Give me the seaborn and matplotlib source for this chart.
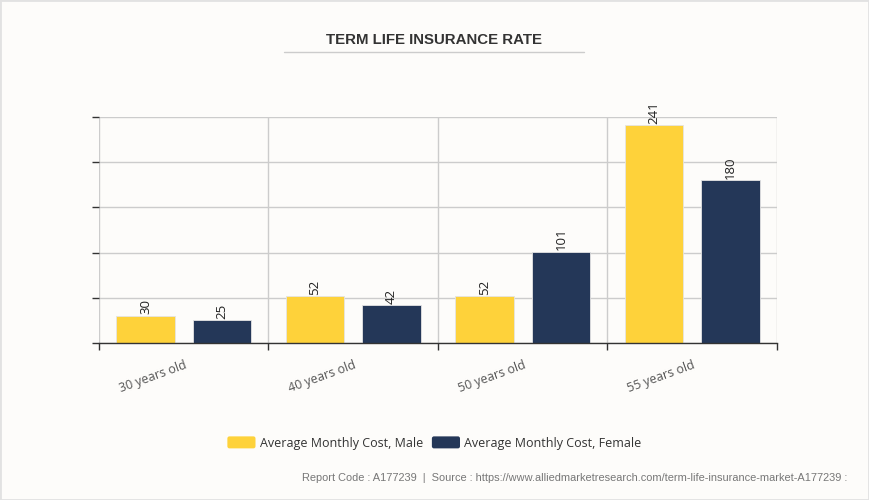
import matplotlib
matplotlib.use("Agg")
import matplotlib.pyplot as plt
from matplotlib.patches import FancyBboxPatch, Rectangle
from matplotlib.lines import Line2D
from matplotlib.legend_handler import HandlerPatch
import seaborn as sns
import pandas as pd

# data
ages = ["30 years old", "40 years old", "50 years old", "55 years old"]
male_cost = [30, 52, 52, 241]
female_cost = [25, 42, 101, 180]
series = ["Average Monthly Cost, Male", "Average Monthly Cost, Female"]
colors = ["#FED23A", "#243758"]

df = pd.DataFrame({
    "age": ages * 2,
    "cost": male_cost + female_cost,
    "series": [series[0]] * len(ages) + [series[1]] * len(ages),
})

sns.set_style("white")
plt.rcParams["font.family"] = ["Open Sans", "DejaVu Sans"]

bg = "#FDFCFA"
fig = plt.figure(figsize=(8.69, 5.0), dpi=100, facecolor=bg)
ax = fig.add_axes([0.1139, 0.314, 0.7802, 0.452])
ax.set_facecolor(bg)

sns.barplot(data=df, x="age", y="cost", hue="series", palette=colors,
            saturation=1, width=0.9, gap=0.235, ax=ax, legend=False,
            edgecolor="#e4e4e4", linewidth=0.6)

for cont in ax.containers:
    ax.bar_label(cont, rotation=90, padding=1, fontsize=9.5, color="#222222")

ax.set_ylim(0, 250)
ax.set_xlim(-0.5, len(ages) - 0.5)
ax.set_yticks(range(0, 251, 50))
ax.set_yticklabels([])
ax.set_xticks(range(len(ages)))
ax.set_xticklabels(ages, rotation=20, ha="right", rotation_mode="anchor",
                   fontsize=9, color="#555555")
ax.set_xticks([i - 0.5 for i in range(len(ages) + 1)], minor=True)
ax.tick_params(axis="x", which="major", length=0, pad=11)
ax.tick_params(axis="x", which="minor", length=5, width=1, color="#333333",
               direction="out", bottom=True)
ax.tick_params(axis="y", length=5, width=1, color="#333333", left=True,
               direction="out")
ax.set_xlabel("")
ax.set_ylabel("")

ax.grid(axis="y", color="#cccccc", linewidth=1)
ax.grid(axis="x", which="minor", color="#cccccc", linewidth=1)
ax.set_axisbelow(True)
for s in ["top", "right", "left"]:
    ax.spines[s].set_visible(False)
ax.spines["bottom"].set_color("#333333")
ax.spines["bottom"].set_linewidth(1)
ax.spines["bottom"].set_zorder(5)

# title with underline
fig.text(0.5, 0.92, "TERM LIFE INSURANCE RATE", ha="center", va="center",
         fontsize=10.8, fontweight="bold", color="#333333",
         family=["Liberation Sans", "DejaVu Sans"])
fig.add_artist(Line2D([284 / 869, 584 / 869], [1 - 52 / 500, 1 - 52 / 500],
                      color="#cccccc", linewidth=1))


# legend with rounded swatches
class RoundHandler(HandlerPatch):
    def create_artists(self, legend, orig_handle, xdescent, ydescent,
                       width, height, fontsize, trans):
        p = FancyBboxPatch((-xdescent + 1.5, -ydescent + 1.5), width - 3,
                           height - 3, boxstyle="round,pad=1.5",
                           facecolor=orig_handle.get_facecolor(),
                           edgecolor="none", transform=trans)
        return [p]


handles = [Rectangle((0, 0), 1, 1, facecolor=c) for c in colors]
fig.legend(handles, series, loc="center", bbox_to_anchor=(0.5, 0.114),
           ncol=2, frameon=False, fontsize=9, handlelength=2.25,
           handleheight=1.1, handletextpad=0.35, columnspacing=0.7,
           labelcolor="#333333",
           handler_map={Rectangle: RoundHandler()})

# footer
fig.text(847 / 869, 1 - 478 / 500,
         "Report Code : A177239  |  Source : https://www.alliedmarketresearch.com/term-life-insurance-market-A177239 :",
         ha="right", va="center", fontsize=7.95, color="#777777",
         family=["Liberation Sans", "DejaVu Sans"])

# light frame around the image
fig.add_artist(Rectangle((0, 0), 1, 1, transform=fig.transFigure, fill=False,
                         edgecolor="#e2e2e2", linewidth=2))

fig.savefig("out.png", dpi=100, facecolor=bg)
